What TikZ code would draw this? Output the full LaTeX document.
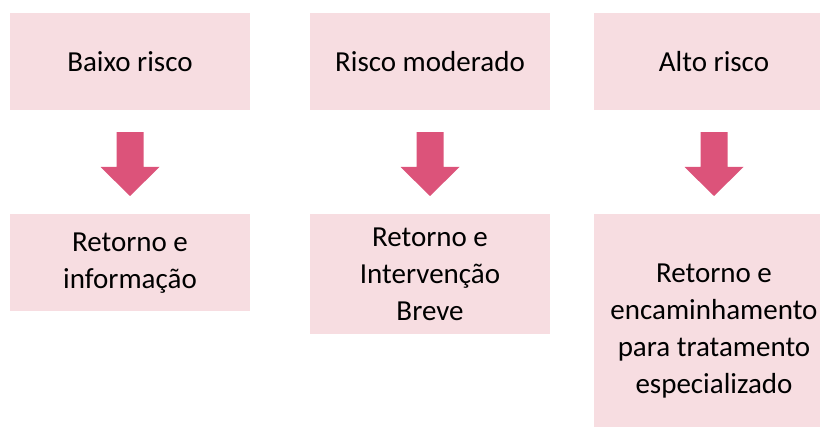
\documentclass[tikz,border=0pt]{standalone}
\usepackage{fontspec}
\setmainfont{Carlito}
\usepackage{tikz}
\usetikzlibrary{calc}
\usetikzlibrary{positioning}
\tikzset{riskbox/.style = {rectangle, fill=boxpink, minimum width=240pt,
                           minimum height=97pt, inner sep=0pt, align=center,
                           font=\fontsize{29}{37}\selectfont}}
\definecolor{boxpink}{RGB}{247, 221, 225}
\definecolor{arrowpink}{RGB}{220, 83, 122}
\newcommand{\blockarrow}[2]{%
  \fill [arrowpink] ($(#1.south)+(-13.5,22)$) -- ($(#1.south)+(13.5,22)$)
    -- ($(#2.north)+(13.5,-47)$) -- ($(#2.north)+(29.5,-47)$)
    -- ($(#2.north)+(0,-18)$) -- ($(#2.north)+(-29.5,-47)$)
    -- ($(#2.north)+(-13.5,-47)$) -- cycle;}

\begin{document}
\begin{tikzpicture}[x=1pt, y=-1pt]
    \useasboundingbox (0, 0) rectangle (820, 427);
    \clip (0, 0) rectangle (820, 427);

    \node [riskbox] (low) at (130, 61.5) {Baixo risco};
    \node [riskbox] (mod) at (430, 61.5) {Risco moderado};
    \node [riskbox] (high) at (714, 61.5) {Alto risco};

    \node [riskbox, anchor=north] (lowact) at (130, 214) {Retorno e\\informação};
    \node [riskbox, anchor=north, minimum height=120pt] (modact) at (430, 214)
          {Retorno e\\Intervenção\\Breve};
    \node [riskbox, anchor=north, minimum height=234pt] (highact) at (714, 214)
          {Retorno e\\encaminhamento\\para tratamento\\especializado};

    \blockarrow{low}{lowact}
    \blockarrow{mod}{modact}
    \blockarrow{high}{highact}
  \end{tikzpicture}
\end{document}
